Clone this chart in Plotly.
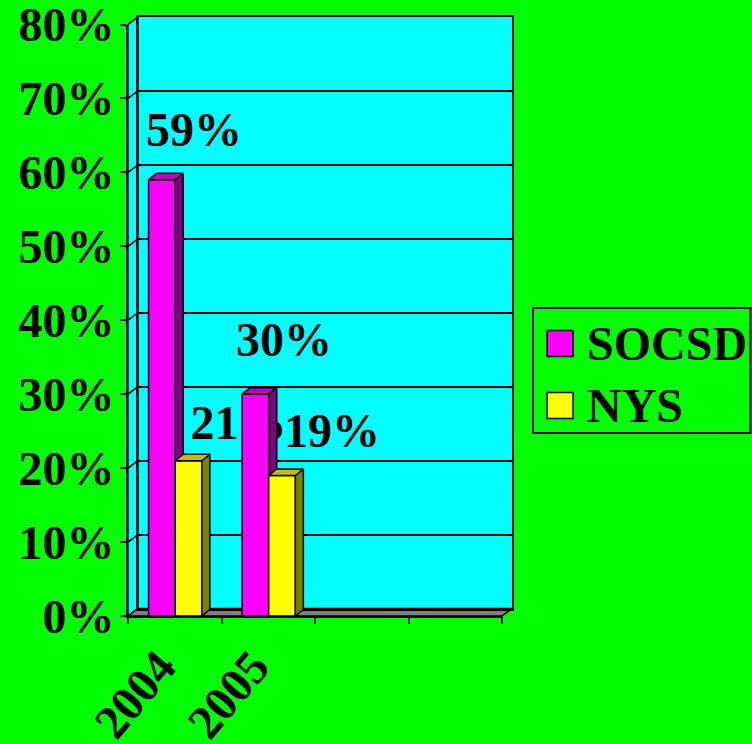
import plotly.graph_objects as go

# ---------------- data ----------------
CATEGORIES = ["2004", "2005", "", ""]
SERIES_NAMES = ["SOCSD", "NYS"]
SOCSD = [59, 30, None, None]
NYS = [21, 19, None, None]
Y_TICK_VALUES = [0, 10, 20, 30, 40, 50, 60, 70, 80]
Y_TICK_LABELS = ["0%", "10%", "20%", "30%", "40%", "50%", "60%", "70%", "80%"]

# ---------------- style ----------------
W, H = 752, 744
FRONT_L, FRONT_R = 128, 502      # front plane, px
FRONT_T, FRONT_B = 24.5, 616
WALL_DX, WALL_DY = 10, 7.5       # depth of walls, px
BAR_DX, BAR_DY = 8, 6.5          # depth of bars, px
Y_MAX = 80
BAR_W = 0.285
BAR_OFFSETS = [-0.28, 0.005]
FRONT_COLORS = ["#FF00FF", "#FFFF00"]
SIDE_COLORS = ["#800080", "#808000"]
TOP_COLORS = ["#C000C0", "#C0C000"]
BG = "#00FF00"
WALL = "#00FFFF"
FLOOR = "#808080"
FONT = dict(family="Liberation Serif, Times New Roman, serif", size=48,
            color="black", weight="bold")
# label offsets (px) from top-centre of each bar's front face
LABEL_DX = [[32, 28.5], [50, 50]]
LABEL_DY = [[45.5, 50.5], [34, 41]]

N = len(CATEGORIES)
px_per_cat = (FRONT_R - FRONT_L) / N
px_per_pct = (FRONT_B - FRONT_T) / Y_MAX


def px(x):
    return x / W


def py(y):
    return 1 - y / H


series = [SOCSD, NYS]
fig = go.Figure()

rng_x = [-0.5, N - 0.5]
rng_y = [0, Y_MAX]

# invisible trace so that the back-wall subplot (gridlines, border) is built
fig.add_trace(go.Scatter(x=rng_x, y=rng_y, mode="markers", marker=dict(opacity=0),
                         showlegend=False, hoverinfo="skip", xaxis="x", yaxis="y"))

# data labels (behind the bars)
lx, ly, lt = [], [], []
for s, vals in enumerate(series):
    for i, v in enumerate(vals):
        if v is None:
            continue
        cx = i + BAR_OFFSETS[s] + BAR_W / 2
        lx.append(cx + LABEL_DX[s][i] / px_per_cat)
        ly.append(v + LABEL_DY[s][i] / px_per_pct)
        lt.append(f"{v}%")
fig.add_trace(go.Scatter(x=lx, y=ly, text=lt, mode="text", textposition="middle center",
                         textfont=FONT, cliponaxis=False, showlegend=False,
                         hoverinfo="skip", xaxis="x2", yaxis="y2"))

ddx = BAR_DX / px_per_cat
ddy = BAR_DY / px_per_pct
axes_for = [("x3", "y3"), ("x4", "y4")]
for s, vals in enumerate(series):
    xa, ya = axes_for[s]
    fig.add_trace(go.Bar(x=list(range(N)), y=vals, width=BAR_W, offset=BAR_OFFSETS[s],
                         marker=dict(color=FRONT_COLORS[s], line=dict(color="black", width=1.5)),
                         name=SERIES_NAMES[s], showlegend=False, xaxis=xa, yaxis=ya,
                         hoverinfo="skip"))
    for i, v in enumerate(vals):
        if v is None:
            continue
        x0 = i + BAR_OFFSETS[s]
        x1 = x0 + BAR_W
        # side face
        fig.add_trace(go.Scatter(x=[x1, x1 + ddx, x1 + ddx, x1, x1], y=[0, ddy, v + ddy, v, 0],
                                 mode="lines", fill="toself", fillcolor=SIDE_COLORS[s],
                                 line=dict(color="black", width=1.5), showlegend=False,
                                 hoverinfo="skip", xaxis=xa, yaxis=ya))
        # top face
        fig.add_trace(go.Scatter(x=[x0, x0 + ddx, x1 + ddx, x1, x0], y=[v, v + ddy, v + ddy, v, v],
                                 mode="lines", fill="toself", fillcolor=TOP_COLORS[s],
                                 line=dict(color="black", width=1.5), showlegend=False,
                                 hoverinfo="skip", xaxis=xa, yaxis=ya))

shapes = []
# back wall fill
shapes.append(dict(type="rect", xref="paper", yref="paper", layer="below",
                   x0=px(FRONT_L + WALL_DX), x1=px(FRONT_R + WALL_DX),
                   y0=py(FRONT_B - WALL_DY), y1=py(FRONT_T - WALL_DY),
                   fillcolor=WALL, line=dict(width=0)))
# left wall
shapes.append(dict(type="path", xref="paper", yref="paper", layer="below",
                   path=f"M{px(FRONT_L)},{py(FRONT_B)} L{px(FRONT_L)},{py(FRONT_T)} "
                        f"L{px(FRONT_L + WALL_DX)},{py(FRONT_T - WALL_DY)} "
                        f"L{px(FRONT_L + WALL_DX)},{py(FRONT_B - WALL_DY)} Z",
                   fillcolor=WALL, line=dict(color="black", width=1.5)))
# gridlines on left wall
for v in Y_TICK_VALUES:
    yf = FRONT_B - v * px_per_pct
    shapes.append(dict(type="line", xref="paper", yref="paper", layer="below",
                       x0=px(FRONT_L), y0=py(yf), x1=px(FRONT_L + WALL_DX), y1=py(yf - WALL_DY),
                       line=dict(color="black", width=1.5)))
# floor
shapes.append(dict(type="path", xref="paper", yref="paper", layer="below",
                   path=f"M{px(FRONT_L)},{py(FRONT_B)} L{px(FRONT_L + WALL_DX)},{py(FRONT_B - WALL_DY)} "
                        f"L{px(FRONT_R + WALL_DX)},{py(FRONT_B - WALL_DY)} L{px(FRONT_R)},{py(FRONT_B)} Z",
                   fillcolor=FLOOR, line=dict(color="black", width=1.5)))

# custom legend
LEG_L, LEG_R, LEG_T, LEG_B = 533, 750.5, 308, 433
ROW_C = [343.5, 405.5]
SW = 26
shapes.append(dict(type="rect", xref="paper", yref="paper", x0=px(LEG_L), x1=px(LEG_R),
                   y0=py(LEG_B), y1=py(LEG_T), line=dict(color="black", width=2)))
annotations = []
for s, name in enumerate(SERIES_NAMES):
    c = ROW_C[s]
    shapes.append(dict(type="rect", xref="paper", yref="paper", x0=px(547), x1=px(547 + SW),
                       y0=py(c + SW / 2), y1=py(c - SW / 2), fillcolor=FRONT_COLORS[s],
                       line=dict(color="black", width=1.5)))
    annotations.append(dict(text=name, xref="paper", yref="paper", x=px(585), y=py(c),
                            xanchor="left", yanchor="middle", showarrow=False, font=FONT))

fig.update_layout(
    width=W, height=H, margin=dict(l=0, r=0, t=0, b=0, autoexpand=False),
    paper_bgcolor=BG, plot_bgcolor="rgba(0,0,0,0)", showlegend=False,
    shapes=shapes, annotations=annotations,
    xaxis=dict(domain=[px(FRONT_L + WALL_DX), px(FRONT_R + WALL_DX)], anchor="y", range=rng_x,
               showgrid=False, zeroline=False, showticklabels=False, ticks="",
               showline=True, mirror=True, linecolor="black", linewidth=2, automargin=False),
    yaxis=dict(domain=[py(FRONT_B - WALL_DY), py(FRONT_T - WALL_DY)], anchor="x", range=rng_y,
               tickvals=Y_TICK_VALUES, showgrid=True, gridcolor="black", gridwidth=1.5,
               zeroline=False, showticklabels=False, ticks="",
               showline=True, mirror=True, linecolor="black", linewidth=2, automargin=False),
    xaxis2=dict(domain=[px(FRONT_L), px(FRONT_R)], anchor="y2", range=rng_x,
                tickvals=list(range(N)), ticktext=CATEGORIES, tickangle=-50, ticks="",
                tickfont=FONT, showgrid=False, zeroline=False, automargin=False,
                ticklabeloverflow="allow", ticklabelshift=-15, ticklabelstandoff=1,
                showline=True, linecolor="black", linewidth=2),
    yaxis2=dict(domain=[py(FRONT_B), py(FRONT_T)], anchor="x2", range=rng_y,
                tickvals=Y_TICK_VALUES, ticktext=Y_TICK_LABELS, ticks="outside", ticklen=6,
                tickwidth=2, tickcolor="black", tickfont=FONT, showgrid=False, zeroline=False,
                automargin=False, ticklabeloverflow="allow", ticklabelstandoff=-4,
                showline=True, linecolor="black", linewidth=2),
    xaxis3=dict(overlaying="x2", anchor="y3", range=rng_x,
                tickvals=[i - 0.5 for i in range(N + 1)], ticks="outside", ticklen=7,
                tickwidth=2, tickcolor="black", showticklabels=False, showgrid=False,
                zeroline=False, showline=False, automargin=False),
    yaxis3=dict(overlaying="y2", anchor="x3", range=rng_y, visible=False),
    xaxis4=dict(overlaying="x2", anchor="y4", range=rng_x, visible=False),
    yaxis4=dict(overlaying="y2", anchor="x4", range=rng_y, visible=False),
)

fig.write_html("out.html")
